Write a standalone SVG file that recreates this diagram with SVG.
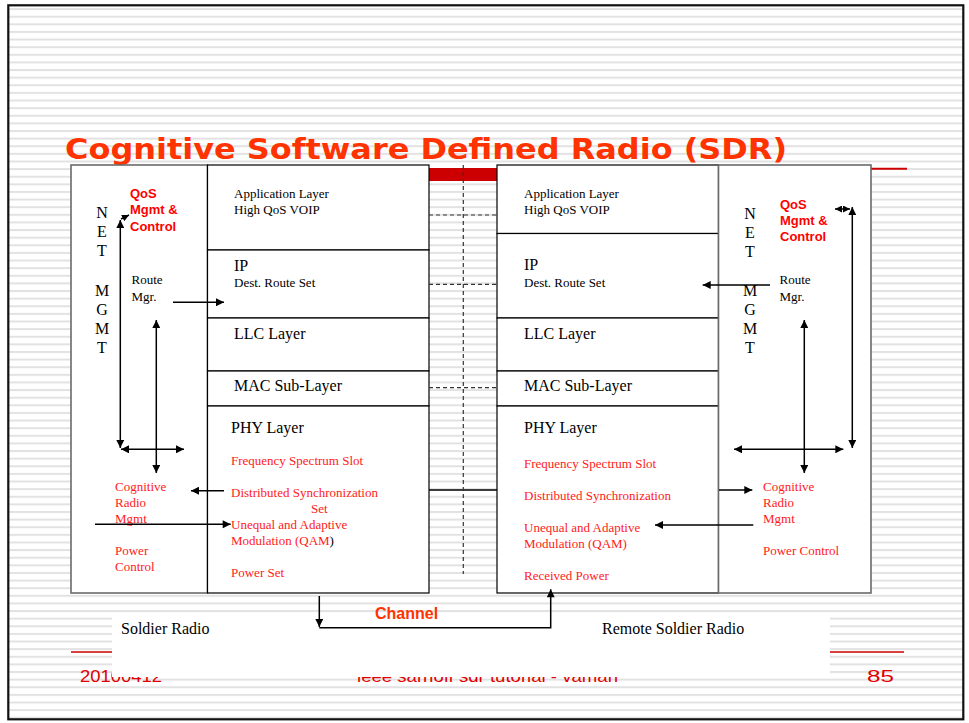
<svg xmlns="http://www.w3.org/2000/svg" width="969" height="723" viewBox="0 0 969 723">
<style>
.serif{font-family:"Liberation Serif","Times New Roman",serif;fill:#000}
.s13{font-size:13px}
.s16{font-size:16px}
.red{fill:#ff1a1a}
.bold{font-family:"Liberation Sans",Arial,sans-serif;font-weight:bold;font-size:13px;fill:#ff0000}
.stack{fill:#fff;stroke:#000;stroke-width:1.2}
.outer{fill:#fff;stroke:#6a6a6a;stroke-width:1.6}
.conn{stroke:#000;stroke-width:1.5;fill:none}
.dash{stroke:#333;stroke-width:1.2;stroke-dasharray:4 3;fill:none}
.foot{font-family:"Liberation Sans",Arial,sans-serif;font-size:17px;fill:#e00000}
</style>
<defs>
<pattern id="stripes" x="0" y="15.7" width="20" height="7.62" patternUnits="userSpaceOnUse">
<rect width="20" height="7.62" fill="#ffffff"/>
<rect y="0" width="20" height="2" fill="#e2e2e2"/>
</pattern>
<marker id="ah" viewBox="0 0 10 10" refX="10" refY="5" markerWidth="9" markerHeight="8" markerUnits="userSpaceOnUse" orient="auto-start-reverse">
<path d="M0,0 L10,5 L0,10 z" fill="#000"/>
</marker>
<marker id="ahs" viewBox="0 0 10 10" refX="10" refY="5" markerWidth="7" markerHeight="7" markerUnits="userSpaceOnUse" orient="auto-start-reverse">
<path d="M0,0 L10,5 L0,10 z" fill="#000"/>
</marker>
</defs>

<rect width="969" height="723" fill="#fff"/>
<rect x="9" y="6" width="954" height="712" fill="url(#stripes)"/>
<rect x="8.3" y="5.3" width="955" height="714" fill="none" stroke="#111" stroke-width="2.2"/>

<g id="title">
<line x1="860" y1="168.7" x2="907" y2="168.7" stroke="#cc0000" stroke-width="2"/>
<rect x="429" y="168" width="68" height="13" fill="#cc0000"/>
<text x="65" y="159" font-family="'DejaVu Sans',Verdana,sans-serif" font-weight="bold" font-size="28" fill="#ff3300" textLength="722" lengthAdjust="spacingAndGlyphs">Cognitive Software Defined Radio (SDR)</text>
</g>

<g id="footer">
<line x1="71" y1="652" x2="904" y2="652" stroke="#cc0000" stroke-width="1.5"/>
<text class="foot" x="80" y="682" textLength="82" lengthAdjust="spacingAndGlyphs">20100412</text>
<text class="foot" x="357" y="682" textLength="261" lengthAdjust="spacingAndGlyphs">ieee sarnoff sdr tutorial - vaman</text>
<text class="foot" x="867" y="682" textLength="27" lengthAdjust="spacingAndGlyphs">85</text>
</g>

<g id="caption-box">
<rect x="112" y="614" width="718" height="63" fill="#fff"/>
<text class="serif s16" x="121" y="634">Soldier Radio</text>
<text class="serif s16" x="602" y="634">Remote Soldier Radio</text>
</g>

<g id="left-net-mgmt">
<rect class="outer" x="71" y="165" width="136.5" height="428"/>
<g class="serif s16" text-anchor="middle">
<text x="102" y="218">N</text>
<text x="102" y="237">E</text>
<text x="102" y="256">T</text>
<text x="102" y="296">M</text>
<text x="102" y="315">G</text>
<text x="102" y="334">M</text>
<text x="102" y="353">T</text>
</g>
<text class="bold" x="130" y="198">QoS</text>
<text class="bold" x="130" y="214">Mgmt &amp;</text>
<text class="bold" x="130" y="230.5">Control</text>
<text class="serif s13" x="131.5" y="284">Route</text>
<text class="serif s13" x="131.5" y="301">Mgr.</text>
<text class="serif s13 red" x="115" y="491">Cognitive</text>
<text class="serif s13 red" x="115" y="507">Radio</text>
<text class="serif s13 red" x="115" y="523">Mgmt</text>
<text class="serif s13 red" x="115" y="555">Power</text>
<text class="serif s13 red" x="115" y="571">Control</text>
</g>

<g id="left-stack">
<g id="left-app"><rect class="stack" x="207.5" y="165" width="221.5" height="85"/>
<text class="serif s13" x="234" y="198">Application Layer</text>
<text class="serif s13" x="234" y="214">High QoS VOIP</text></g>
<g id="left-ip"><rect class="stack" x="207.5" y="250" width="221.5" height="68"/>
<text class="serif s16" x="234" y="271">IP</text>
<text class="serif s13" x="234" y="287">Dest. Route Set</text></g>
<g id="left-llc"><rect class="stack" x="207.5" y="318" width="221.5" height="53"/>
<text class="serif s16" x="234" y="339">LLC Layer</text></g>
<g id="left-mac"><rect class="stack" x="207.5" y="371" width="221.5" height="35"/>
<text class="serif s16" x="234" y="391">MAC Sub-Layer</text></g>
<g id="left-phy"><rect class="stack" x="207.5" y="406" width="221.5" height="187"/>
<text class="serif s16" x="231" y="433">PHY Layer</text>
<text class="serif s13 red" x="231" y="465">Frequency Spectrum Slot</text>
<text class="serif s13 red" x="231" y="497">Distributed Synchronization</text>
<text class="serif s13 red" x="311" y="513">Set</text>
<text class="serif s13 red" x="231" y="529">Unequal and Adaptive</text>
<text class="serif s13 red" x="231" y="545">Modulation (QAM<tspan fill="#000">)</tspan></text>
<text class="serif s13 red" x="231" y="577">Power Set</text></g>
</g>

<g id="right-stack">
<g id="right-app"><rect class="stack" x="497" y="165" width="221.5" height="68.5"/>
<text class="serif s13" x="524" y="198">Application Layer</text>
<text class="serif s13" x="524" y="214">High QoS VOIP</text></g>
<g id="right-ip"><rect class="stack" x="497" y="233.5" width="221.5" height="84.5"/>
<text class="serif s16" x="524" y="270">IP</text>
<text class="serif s13" x="524" y="287">Dest. Route Set</text></g>
<g id="right-llc"><rect class="stack" x="497" y="318" width="221.5" height="53"/>
<text class="serif s16" x="524" y="339">LLC Layer</text></g>
<g id="right-mac"><rect class="stack" x="497" y="371" width="221.5" height="35"/>
<text class="serif s16" x="524" y="391">MAC Sub-Layer</text></g>
<g id="right-phy"><rect class="stack" x="497" y="406" width="221.5" height="187"/>
<text class="serif s16" x="524" y="433">PHY Layer</text>
<text class="serif s13 red" x="524" y="468">Frequency Spectrum Slot</text>
<text class="serif s13 red" x="524" y="500">Distributed Synchronization</text>
<text class="serif s13 red" x="524" y="532">Unequal and Adaptive</text>
<text class="serif s13 red" x="524" y="548">Modulation (QAM)</text>
<text class="serif s13 red" x="524" y="580">Received Power</text></g>
</g>

<g id="right-net-mgmt">
<rect class="outer" x="718.5" y="165" width="152.5" height="428"/>
<g class="serif s16" text-anchor="middle">
<text x="750" y="219">N</text>
<text x="750" y="238">E</text>
<text x="750" y="257">T</text>
<text x="750" y="296">M</text>
<text x="750" y="315">G</text>
<text x="750" y="334">M</text>
<text x="750" y="353">T</text>
</g>
<text class="bold" x="780" y="208.5">QoS</text>
<text class="bold" x="780" y="224.5">Mgmt &amp;</text>
<text class="bold" x="780" y="241">Control</text>
<text class="serif s13" x="779.5" y="284">Route</text>
<text class="serif s13" x="779.5" y="301">Mgr.</text>
<text class="serif s13 red" x="763" y="491">Cognitive</text>
<text class="serif s13 red" x="763" y="507">Radio</text>
<text class="serif s13 red" x="763" y="523">Mgmt</text>
<text class="serif s13 red" x="763" y="555">Power Control</text>
</g>

<g id="connectors">
<line class="dash" x1="429" y1="215" x2="497" y2="215"/>
<line class="dash" x1="429" y1="284.3" x2="497" y2="284.3"/>
<line class="dash" x1="429" y1="387.7" x2="497" y2="387.7"/>
<line class="conn" x1="429" y1="490" x2="497" y2="490" stroke-width="1.2"/>
<line class="dash" x1="463.3" y1="165" x2="463.3" y2="574"/>

<line class="conn" x1="120.3" y1="448" x2="120.3" y2="220" marker-start="url(#ah)" marker-end="url(#ah)"/>
<line class="conn" x1="121" y1="219" x2="129" y2="215" marker-end="url(#ahs)"/>
<line class="conn" x1="121" y1="449.3" x2="184" y2="449.3" marker-start="url(#ah)" marker-end="url(#ah)"/>
<line class="conn" x1="156.3" y1="320" x2="156.3" y2="473" marker-start="url(#ah)" marker-end="url(#ah)"/>
<line class="conn" x1="173" y1="302.3" x2="224" y2="302.3" marker-end="url(#ah)"/>
<line class="conn" x1="224" y1="490.7" x2="191" y2="490.7" marker-end="url(#ah)"/>
<line class="conn" x1="95" y1="524.3" x2="230.7" y2="524.3" marker-end="url(#ah)"/>

<line class="conn" x1="770" y1="285" x2="702.7" y2="285" marker-end="url(#ah)"/>
<line class="conn" x1="804.3" y1="320" x2="804.3" y2="473" marker-start="url(#ah)" marker-end="url(#ah)"/>
<line class="conn" x1="852.3" y1="207" x2="852.3" y2="448" marker-start="url(#ah)" marker-end="url(#ah)"/>
<line class="conn" x1="835" y1="209" x2="850" y2="209" marker-start="url(#ahs)" marker-end="url(#ahs)"/>
<line class="conn" x1="734" y1="449.3" x2="843.3" y2="449.3" marker-start="url(#ah)" marker-end="url(#ah)"/>
<line class="conn" x1="719" y1="490" x2="752.3" y2="490" marker-end="url(#ah)"/>
<line class="conn" x1="753.3" y1="525" x2="655" y2="525" marker-end="url(#ah)"/>

<line class="conn" x1="319.3" y1="596" x2="319.3" y2="627" marker-end="url(#ah)"/>
<path class="conn" d="M319.3,627.7 L550.7,627.7 L550.7,589.3" stroke-width="2" marker-end="url(#ah)"/>
</g>
<text x="375" y="619.3" font-family="'Liberation Sans',Arial,sans-serif" font-weight="bold" font-size="16" fill="#ff3300">Channel</text>
</svg>
